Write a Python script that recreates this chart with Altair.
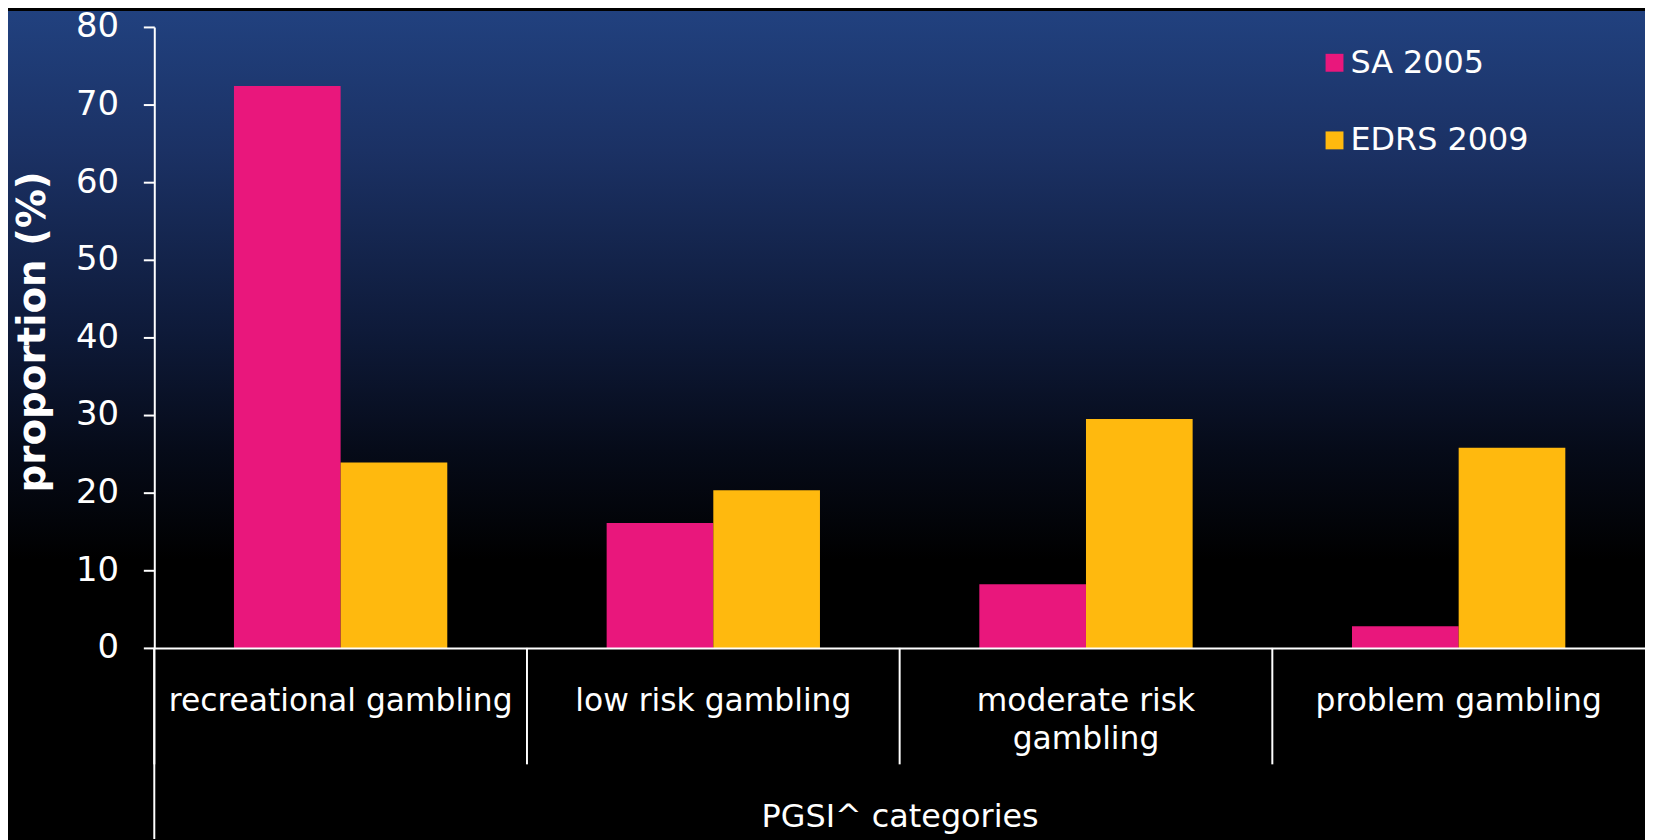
import altair as alt
import pandas as pd

categories = ["recreational gambling", "low risk gambling", "moderate risk gambling", "problem gambling"]
series_names = ["SA 2005", "EDRS 2009"]
sa_2005 = [72.4, 16.1, 8.2, 2.8]
edrs_2009 = [23.9, 20.3, 29.5, 25.8]
y_ticks = [0, 10, 20, 30, 40, 50, 60, 70, 80]
colors = ["#E9177C", "#FFB90E"]

rows = []
for c, a, b in zip(categories, sa_2005, edrs_2009):
    rows.append({"category": c, "series": series_names[0], "value": a})
    rows.append({"category": c, "series": series_names[1], "value": b})
df = pd.DataFrame(rows)

W, H = 1498, 624
FONT = "DejaVu Sans"

bg = alt.Chart(pd.DataFrame({"k": [0]})).mark_rect(
    fill=alt.Gradient(
        gradient="linear",
        stops=[
            alt.GradientStop(color="#21417f", offset=0.0),
            alt.GradientStop(color="#1b3164", offset=0.17),
            alt.GradientStop(color="#0e1a39", offset=0.387),
            alt.GradientStop(color="#060b19", offset=0.53),
            alt.GradientStop(color="#000000", offset=0.663),
            alt.GradientStop(color="#000000", offset=1.0),
        ],
        x1=0, x2=0, y1=0, y2=1,
    ),
    strokeWidth=0,
).encode(x=alt.value(-147), x2=alt.value(W), y=alt.value(-16), y2=alt.value(H + 192))

x_axis = alt.Axis(
    title="PGSI^ categories", labelAngle=0, labelFontSize=31.5, labelColor="white", labelFont=FONT,
    labelPadding=38, ticks=False, domainColor="white", domainWidth=2, labelLimit=400,
    labelOverlap=False, labelLineHeight=38,
    labelExpr="datum.value == 'moderate risk gambling' ? ['moderate risk', 'gambling'] : datum.value",
    titleFontSize=32, titleFont=FONT, titleFontWeight="normal", titleColor="white",
    titleY=179, titleBaseline="alphabetic", zindex=1, grid=False,
)

y_axis = alt.Axis(
    title="proportion (%)", values=y_ticks, labelFontSize=34, labelColor="white", labelFont=FONT,
    labelPadding=25, tickSize=11, tickWidth=2, tickColor="white", domainColor="white", domainWidth=2,
    titleFontSize=39, titleFont=FONT, titleFontWeight="bold", titleColor="white",
    titleX=-122, titleY=306, titleBaseline="middle", zindex=1, grid=False,
)

x_scale = alt.Scale(paddingInner=0, paddingOuter=0)

bars = alt.Chart(df).mark_bar(strokeWidth=0).encode(
    x=alt.X("category:N", sort=categories, scale=x_scale, axis=x_axis),
    xOffset=alt.XOffset("series:N", sort=series_names, scale=alt.Scale(paddingOuter=0.747, paddingInner=0)),
    y=alt.Y("value:Q", scale=alt.Scale(domain=[0, 80], nice=False, zero=True), axis=y_axis),
    color=alt.Color(
        "series:N",
        scale=alt.Scale(domain=series_names, range=colors),
        legend=alt.Legend(
            title=None, orient="none", legendX=1170, legendY=20, symbolType="square",
            symbolSize=324, symbolStrokeWidth=0, symbolOpacity=1, labelFontSize=32,
            labelColor="white", labelFont=FONT, labelLimit=400, rowPadding=46,
            labelOffset=0, padding=0, zindex=1,
        ),
    ),
)

dividers = alt.Chart(pd.DataFrame({"category": categories})).mark_rule(color="white", strokeWidth=2).encode(
    x=alt.X("category:N", sort=categories, bandPosition=0, scale=x_scale, axis=x_axis),
    y=alt.value(H),
    y2=alt.value(H + 117),
)

yext = alt.Chart(pd.DataFrame({"k": [0]})).mark_rule(color="white", strokeWidth=2).encode(
    x=alt.value(0), y=alt.value(H), y2=alt.value(H + 192)
)

chart = alt.layer(bg, bars, dividers, yext).properties(
    width=W, height=H, padding=0
).configure(background="#000000", font=FONT).configure_view(strokeWidth=0)

chart.save("out.html", embed_options={"renderer": "svg", "actions": False})
